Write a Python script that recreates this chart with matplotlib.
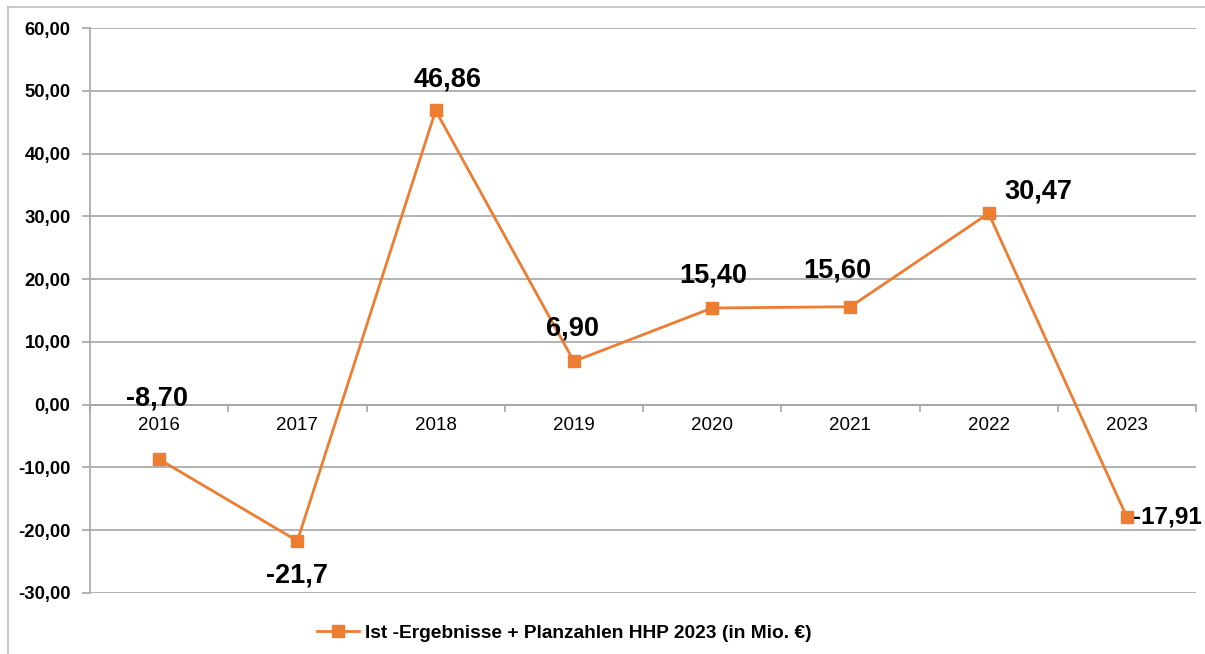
import numpy as np
import matplotlib.pyplot as plt
from matplotlib.lines import Line2D

plt.rcParams['font.family'] = ['Liberation Sans', 'DejaVu Sans']

years = ['2016', '2017', '2018', '2019', '2020', '2021', '2022', '2023']
values = [-8.70, -21.7, 46.86, 6.90, 15.40, 15.60, 30.47, -17.91]
labels = ['-8,70', '-21,7', '46,86', '6,90', '15,40', '15,60', '30,47', '-17,91']
series_name = 'Ist -Ergebnisse + Planzahlen HHP 2023 (in Mio. €)'

# label offsets in pixels (dx, dy, ha)
offsets = [(-2, 61, 'center'), (0, -35, 'center'), (12, 31, 'center'), (-1, 33, 'center'),
           (1, 32, 'center'), (-13, 36, 'center'), (50, 22, 'center'), (6, 0, 'left')]

orange = '#ED7D31'
grid_c = '#a6a6a6'

fig = plt.figure(figsize=(12.05, 6.54), dpi=100)
ax = fig.add_axes([90/1205, 1-593/654, (1196-90)/1205, (593-28)/654])

x = np.arange(len(years))
ax.plot(x, values, color=orange, lw=2, marker='s', ms=8, mec=orange, mfc=orange,
        label=series_name, clip_on=False, zorder=3)

for xi, v, lab, (dx, dy, ha) in zip(x, values, labels, offsets):
    # the last label sits at the right edge, keep it a bit smaller so it fits
    fs = 17.5 if ha == 'left' else 19.5
    ax.annotate(lab, (xi, v), xytext=(dx, dy), textcoords='offset pixels',
                ha=ha, va='center', fontsize=fs, fontweight='bold', color='black',
                annotation_clip=False)

ax.set_xlim(-0.5, 7.5)
ax.set_ylim(-30, 60)
ax.set_yticks(np.arange(-30, 61, 10))
ax.set_yticklabels([f'{v:.2f}'.replace('.', ',') for v in np.arange(-30, 61, 10)],
                   fontsize=13.3, fontweight='bold')
ax.yaxis.grid(True, color=grid_c, lw=1.2)
ax.set_axisbelow(True)

ax.set_xticks(np.arange(-0.5, 8, 1))
ax.set_xticklabels([])
ax.set_xticks(x, minor=True)
ax.set_xticklabels(years, minor=True)
ax.tick_params(axis='x', which='minor', length=0, pad=9, labelsize=13.5)
ax.tick_params(axis='x', which='major', length=5, color=grid_c, width=1.2)
ax.tick_params(axis='y', length=6, color=grid_c, width=1.2, pad=8)

ax.spines['bottom'].set_position(('data', 0))
ax.spines['bottom'].set_color(grid_c)
ax.spines['bottom'].set_linewidth(1.2)
ax.spines['left'].set_color(grid_c)
ax.spines['left'].set_linewidth(1.2)
ax.spines['top'].set_visible(False)
ax.spines['right'].set_visible(False)

# outer chart border (left and top)
fig.add_artist(Line2D([8/1205, 8/1205], [0, 1-7/654], color='#bfbfbf', lw=1.2))
fig.add_artist(Line2D([8/1205, 1], [1-7/654, 1-7/654], color='#bfbfbf', lw=1.2))

fig.legend(loc='center', bbox_to_anchor=(564/1205, 1-633/654), frameon=False,
           prop={'size': 13.8, 'weight': 'bold'}, handlelength=2.2, handletextpad=0.3)

fig.savefig('out.png', dpi=100)
